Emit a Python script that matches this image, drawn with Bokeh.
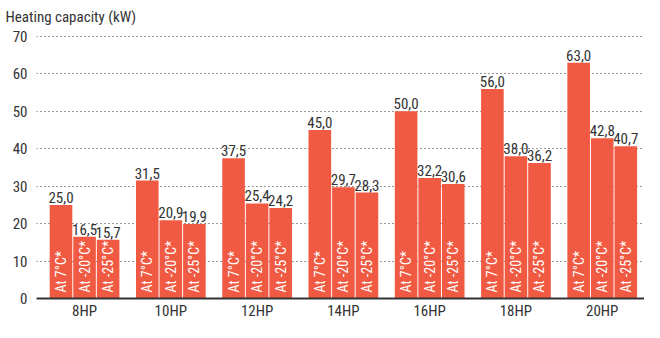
import numpy as np
from bokeh.plotting import figure
from bokeh.models import ColumnDataSource, Range1d, FixedTicker, CustomJSTickFormatter
from bokeh.core.properties import value
from bokeh.embed import file_html
from bokeh.resources import INLINE

models = ["8HP", "10HP", "12HP", "14HP", "16HP", "18HP", "20HP"]
at_7 = [25.0, 31.5, 37.5, 45.0, 50.0, 56.0, 63.0]
at_m20 = [16.5, 20.9, 25.4, 29.7, 32.2, 38.0, 42.8]
at_m25 = [15.7, 19.9, 24.2, 28.3, 30.6, 36.2, 40.7]
series_labels = ["At 7°C*", "At -20°C*", "At -25°C*"]
y_ticks = [0, 10, 20, 30, 40, 50, 60, 70]

FONT = "'Roboto Condensed', 'DejaVu Sans Condensed', Roboto, sans-serif"
BAR = "#F15A42"
DARK = "#333333"

p = figure(width=644, height=322, output_backend="svg", toolbar_location=None,
           x_range=Range1d(-0.557, 6.49), y_range=Range1d(0, 71.6),
           min_border_left=36, min_border_right=0, min_border_bottom=24, min_border_top=28)
p.outline_line_color = None
p.background_fill_color = "white"
p.border_fill_color = "white"

offsets = [-0.273, 0.0, 0.273]
width = 0.262
xs = np.arange(len(models))
for off, vals, lab in zip(offsets, [at_7, at_m20, at_m25], series_labels):
    src = ColumnDataSource(dict(
        x=xs + off, top=vals,
        txt=[f"{v:.1f}".replace(".", ",") for v in vals],
        lab=[lab] * len(vals),
        zero=[0] * len(vals)))
    p.vbar(x="x", top="top", width=width, bottom=0, source=src,
           fill_color=BAR, line_color=None)
    p.text(x="x", y="top", text="txt", source=src, text_align="center",
           text_baseline="bottom", y_offset=-2, text_font=value(FONT),
           text_font_size="15px", text_color=DARK)
    p.text(x="x", y="zero", text="lab", source=src, angle=np.pi / 2,
           text_align="left", text_baseline="middle", y_offset=-6,
           text_font=value(FONT), text_font_size="14px", text_color="white")

p.xgrid.visible = False
p.ygrid.grid_line_color = DARK
p.ygrid.grid_line_dash = "1 3"
p.ygrid.grid_line_width = 1
p.ygrid.ticker = FixedTicker(ticks=y_ticks[1:])

p.yaxis.ticker = FixedTicker(ticks=y_ticks)
p.yaxis.axis_line_color = None
p.yaxis.major_tick_line_color = None
p.yaxis.minor_tick_line_color = None
p.yaxis.major_tick_out = 0
p.yaxis.major_tick_in = 0
p.yaxis.major_label_standoff = 9
p.yaxis.major_label_text_font = FONT
p.yaxis.major_label_text_font_size = "15px"
p.yaxis.major_label_text_color = DARK

p.xaxis.ticker = FixedTicker(ticks=list(range(len(models))))
p.xaxis.formatter = CustomJSTickFormatter(args=dict(labels=models),
                                          code="return labels[Math.round(tick)];")
p.xaxis.axis_line_color = DARK
p.xaxis.axis_line_width = 2
p.xaxis.major_tick_line_color = None
p.xaxis.minor_tick_line_color = None
p.xaxis.major_tick_out = 0
p.xaxis.major_tick_in = 0
p.xaxis.major_label_standoff = 3
p.xaxis.major_label_text_font = FONT
p.xaxis.major_label_text_font_size = "15px"
p.xaxis.major_label_text_color = DARK

p.title.text = "Heating capacity (kW)"
p.title.align = "left"
p.title.offset = -31
p.title.standoff = 10
p.title.text_font = FONT
p.title.text_font_size = "15px"
p.title.text_font_style = "normal"
p.title.text_color = DARK

open("out.html", "w").write(file_html(p, INLINE))
